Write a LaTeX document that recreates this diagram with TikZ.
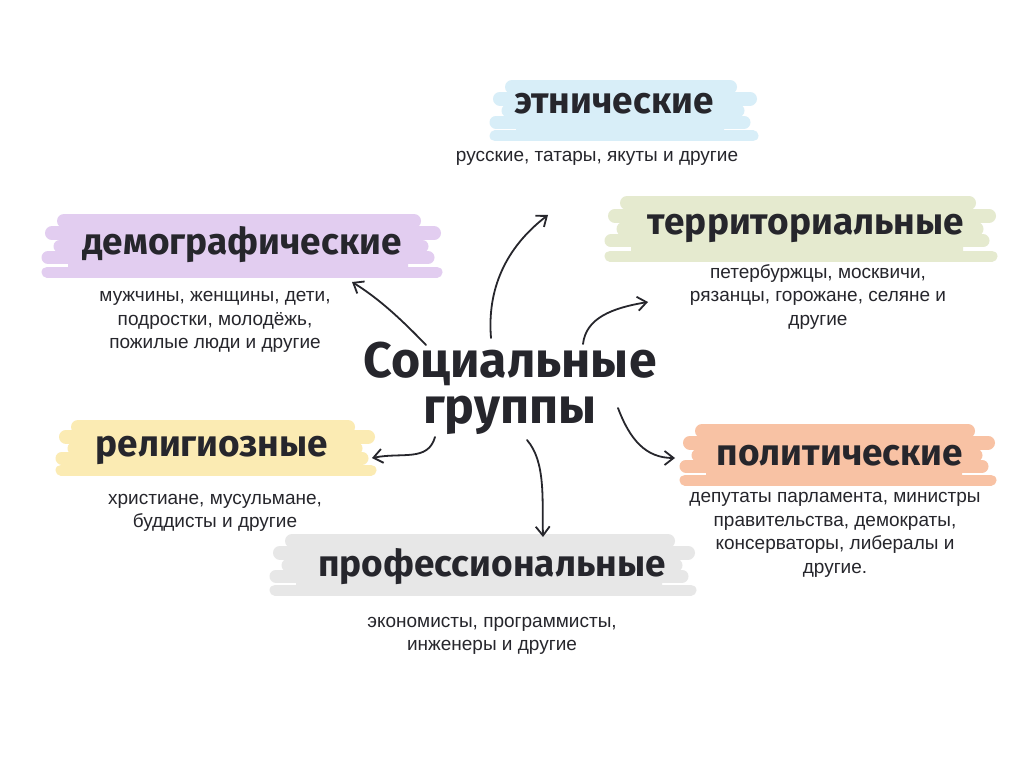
\documentclass[tikz,border=0pt]{standalone}
\usepackage{fontspec}
\setmainfont{Liberation Sans}
\newfontfamily\headfont{Fira Sans}
\usetikzlibrary{arrows.meta}
\definecolor{cEth}{HTML}{D8EEF8}
\definecolor{cDem}{HTML}{E2CDF0}
\definecolor{cTer}{HTML}{E5EACF}
\definecolor{cRel}{HTML}{FBEBB3}
\definecolor{cPol}{HTML}{F8C2A4}
\definecolor{cPro}{HTML}{E7E7E7}
\definecolor{ink}{HTML}{26262C}
% x1 y1 x2 y2 colour
\newcommand\brushstroke[5]{%
  \fill[#5, rounded corners=8pt] ({#1+26},{#2+2}) rectangle ({#3-34},{#4-2});
  \draw[#5, line width=14pt, line cap=round] ({#1+22},{#2+7}) -- ({#3-28},{#2+7});
  \draw[#5, line width=14pt, line cap=round] ({#1+10},{#2+0.3*(#4-#2)}) -- ({#3-8},{#2+0.3*(#4-#2)});
  \draw[#5, line width=13pt, line cap=round] ({#1+18},{#2+0.5*(#4-#2)}) -- ({#3-20},{#2+0.5*(#4-#2)});
  \draw[#5, line width=13pt, line cap=round] ({#1+6},{#2+0.68*(#4-#2)}) -- ({#3-14},{#2+0.68*(#4-#2)});
  \draw[#5, line width=11pt, line cap=round] ({#1+5},{#4-6}) -- ({#3-5},{#4-6});
}
\tikzset{
  head/.style={font=\headfont\bfseries\fontsize{37}{40}\selectfont, text=ink, inner sep=0pt},
  sub/.style={font=\fontsize{19}{23.5}\selectfont, text=ink, align=center, inner sep=0pt},
  arr/.style={-{Straight Barb[length=9pt,width=14pt,line width=1.8pt]}, line width=1.8pt, ink, line cap=round},
}
\begin{document}
\begin{tikzpicture}[x=1pt,y=-1pt]
\useasboundingbox (0,0) rectangle (1024,767);
\fill[white] (0,0) rectangle (1024,767);
% brushes
\brushstroke{490}{80}{758}{142}{cEth}
\brushstroke{42}{214}{442}{278}{cDem}
\brushstroke{605}{196}{997}{262}{cTer}
\brushstroke{56}{420}{376}{476}{cRel}
\brushstroke{680}{424}{996}{486}{cPol}
\brushstroke{270}{534}{696}{596}{cPro}
% headings
\node[head] (eth) at (614,104) {этнические};
\node[head] (dem) at (242,245) {демографические};
\node[head] (ter) at (806,228) {территориальные};
\node[head] (rel) at (212,450) {религиозные};
\node[head] (pol) at (840,456) {политические};
\node[head] (pro) at (492,567) {профессиональные};
% subtexts
\node[sub] (ethsub) at (597,158) {русские, татары, якуты и другие};
\node[sub] (demsub) at (215,322) {мужчины, женщины, дети,\\подростки, молодёжь,\\пожилые люди и другие};
\node[sub] (tersub) at (818,297) {петербуржцы, москвичи,\\рязанцы, горожане, селяне и\\другие};
\node[sub] (relsub) at (215,513) {христиане, мусульмане,\\буддисты и другие};
\node[sub] (polsub) at (835,535) {депутаты парламента, министры\\правительства, демократы,\\консерваторы, либералы и\\другие.};
\node[sub] (prosub) at (492,636) {экономисты, программисты,\\инженеры и другие};
% centre
\node[font=\headfont\bfseries\fontsize{50}{46}\selectfont, text=ink, align=center, inner sep=0pt] (soc) at (510,388) {Социальные\\группы};
% arrow coordinates
\coordinate (s1) at (491,338); \coordinate (e1) at (548,215);
\coordinate (s2) at (426,345); \coordinate (e2) at (352,282);
\coordinate (s3) at (583,344); \coordinate (e3) at (648,302);
\coordinate (s4) at (435,437); \coordinate (e4) at (372,458);
\coordinate (s5) at (527,440); \coordinate (e5) at (543,537);
\coordinate (s6) at (618,408); \coordinate (e6) at (675,458);
\draw[arr] (s1) .. controls (487,290) and (505,248) .. (e1);
\draw[arr] (s2) .. controls (400,318) and (378,298) .. (e2);
\draw[arr] (s3) .. controls (586,318) and (612,308) .. (e3);
\draw[arr] (s4) .. controls (428,462) and (402,452) .. (e4);
\draw[arr] (s5) .. controls (546,462) and (542,500) .. (e5);
\draw[arr] (s6) .. controls (630,440) and (646,458) .. (e6);
\end{tikzpicture}
\end{document}
